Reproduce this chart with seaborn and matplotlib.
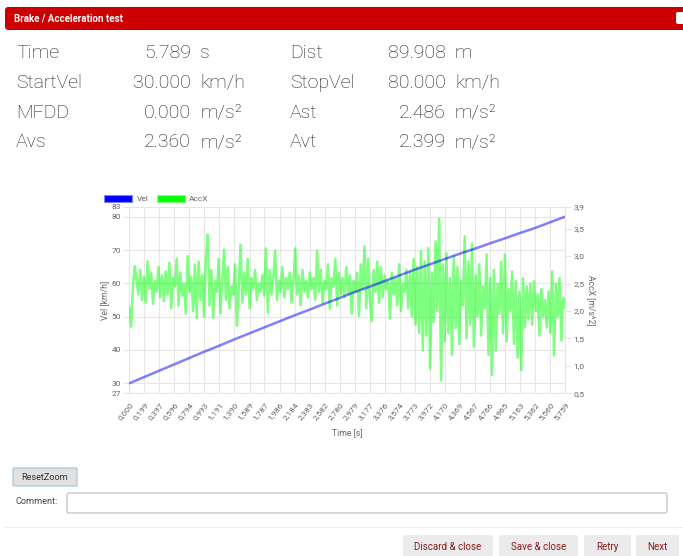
import numpy as np
import matplotlib
matplotlib.use("Agg")
import matplotlib.pyplot as plt
import seaborn as sns
from matplotlib.patches import FancyBboxPatch, Patch

# Kennwerte (Dialog oben)
stat_labels_left = ["Time", "StartVel", "MFDD", "Avs"]
stat_values_left = ["5.789", "30.000", "0.000", "2.360"]
stat_units_left = ["s", "km/h", "m/s²", "m/s²"]
stat_labels_right = ["Dist", "StopVel", "Ast", "Avt"]
stat_values_right = ["89.908", "80.000", "2.486", "2.399"]
stat_units_right = ["m", "km/h", "m/s²", "m/s²"]

# x-Achse (Zeit) Beschriftungen
time_ticks = [0.000, 0.199, 0.397, 0.596, 0.794, 0.993, 1.191, 1.390, 1.589, 1.787,
              1.986, 2.184, 2.383, 2.582, 2.780, 2.979, 3.177, 3.376, 3.574, 3.773,
              3.972, 4.170, 4.369, 4.567, 4.766, 4.965, 5.163, 5.362, 5.560, 5.759]

# Geschwindigkeit an den Beschriftungszeitpunkten
vel = [30.0, 31.9, 33.8, 35.7, 37.6, 39.5, 41.3, 43.2, 45.0, 46.8,
       48.6, 50.4, 52.1, 53.9, 55.6, 57.4, 59.0, 60.7, 62.4, 64.1,
       65.7, 67.3, 68.9, 70.4, 72.0, 73.5, 75.1, 76.6, 78.3, 80.0]

# Beschleunigung AccX [m/s^2]
acc = [
    2.06, 1.72, 2.45, 2.82, 2.55, 2.30, 2.75, 2.20, 2.62, 2.15, 2.90, 2.40, 2.70, 2.13, 2.55, 2.35, 2.80, 2.25, 2.65, 2.18,
    2.72, 2.30, 2.88, 2.05, 2.60, 2.45, 2.95, 2.10, 2.70, 2.28, 2.50, 1.95, 3.00, 2.35, 2.62, 2.00, 2.85, 1.87, 2.90, 2.20,
    2.65, 1.90, 2.95, 3.39, 2.10, 2.75, 1.88, 2.55, 2.35, 2.95, 1.96, 2.60, 3.12, 2.20, 2.80, 2.05, 2.45, 2.30, 2.85, 1.73,
    2.40, 3.21, 2.15, 2.70, 2.30, 2.95, 2.05, 2.60, 2.40, 2.75, 2.20, 2.50, 2.35, 2.65, 2.28, 3.14, 1.97, 2.75, 2.30, 2.60,
    3.10, 2.20, 2.55, 2.35, 2.80, 2.25, 2.60, 2.40, 2.70, 2.15, 2.50, 3.14, 2.30, 2.65, 2.10, 2.75, 2.35, 2.55, 2.25, 2.70,
    2.40, 2.60, 2.20, 3.10, 2.35, 2.75, 2.15, 2.55, 2.40, 2.85, 2.04, 2.60, 2.45, 2.95, 2.10, 2.70, 2.30, 2.60, 2.25, 2.80,
    2.30, 2.65, 1.95, 2.55, 2.35, 2.70, 1.91, 2.85, 2.40, 3.18, 2.05, 2.95, 2.20, 1.82, 2.75, 2.35, 2.90, 2.15, 2.80, 2.25,
    2.65, 2.40, 2.55, 1.86, 2.70, 2.30, 2.60, 2.10, 2.85, 2.00, 2.50, 2.35, 2.75, 2.05, 2.72, 1.90, 2.95, 1.75, 2.80, 1.60,
    3.09, 1.28, 2.90, 1.55, 3.15, 0.95, 2.70, 1.80, 3.27, 2.00, 3.68, 0.74, 2.85, 1.45, 3.05, 1.60, 2.60, 1.20, 3.00, 1.69,
    2.80, 1.40, 2.55, 2.10, 3.36, 1.50, 2.90, 1.75, 3.23, 1.35, 2.65, 1.90, 2.85, 1.55, 2.45, 2.05, 3.03, 1.20, 2.60, 0.83,
    2.75, 1.28, 2.50, 1.95, 2.90, 1.60, 3.03, 1.45, 2.40, 2.00, 2.72, 1.40, 2.55, 1.15, 2.35, 0.92, 2.60, 1.70, 2.45, 1.85,
    2.50, 1.75, 2.54, 2.00, 2.30, 1.55, 2.40, 1.90, 2.20, 1.70, 2.35, 1.60, 2.72, 1.19, 2.50, 1.90, 2.60, 1.46, 2.24, 2.05,
]
acc_time = np.linspace(time_ticks[0], time_ticks[-1], len(acc))

vel_ticks = [27, 30, 40, 50, 60, 70, 80, 83]
acc_ticks = [0.5, 1.0, 1.5, 2.0, 2.5, 3.0, 3.5, 3.9]

W, H = 683, 556
sns.set_style("white")
plt.rcParams['font.family'] = ['Roboto', 'DejaVu Sans']

fig = plt.figure(figsize=(W / 100, H / 100), dpi=100)
P = fig.dpi_scale_trans


def box(x0, y0, x1, y1, fc, ec="none", r=2, lw=0.8):
    fig.add_artist(FancyBboxPatch((x0 / 100, (H - y1) / 100), (x1 - x0) / 100, (y1 - y0) / 100,
                                  boxstyle=f"round,pad=0,rounding_size={r / 100}",
                                  fc=fc, ec=ec, lw=lw, transform=P))


def txt(x, y, s, **kw):
    fig.text(x / 100, (H - y) / 100, s, transform=P, va="center", **kw)


# Kopfzeile
box(5, 7, 700, 30, "#cc0000", r=3)
txt(14, 18.5, "Brake / Acceleration test", color="white", fontsize=7, fontweight="bold")
box(676, 12, 690, 24, "white", r=2)

# Kennwerte
row_y = [53.5, 83, 112.5, 142]
stat_kw = dict(fontsize=14, color="#1e1e1e", fontweight="light")
for i, y in enumerate(row_y):
    txt(16, y, stat_labels_left[i], **stat_kw)
    txt(191, y, stat_values_left[i], ha="right", **stat_kw)
    txt(200, y, stat_units_left[i], **stat_kw)
    txt(290, y, stat_labels_right[i], **stat_kw)
    txt(446, y, stat_values_right[i], ha="right", **stat_kw)
    txt(455, y, stat_units_right[i], **stat_kw)

# Diagramm
x0, x1, y0, y1 = 129.3, 565, 206.7, 393.3
ax = fig.add_axes([x0 / W, 1 - y1 / H, (x1 - x0) / W, (y1 - y0) / H])
ax2 = ax.twinx()
ax3 = ax.twinx()

grid_c = "#e6e6e6"
lab_c = "#666666"

ax.set_xlim(time_ticks[0], time_ticks[-1])
ax.set_ylim(27, 83)
ax.set_yticks(vel_ticks)
ax.set_yticklabels([str(v) for v in vel_ticks])
ax.set_xticks(time_ticks)
ax.set_xticklabels([f"{t:.3f}".replace(".", ",") for t in time_ticks],
                   rotation=52, ha="right", rotation_mode="anchor")
ax.grid(True, color=grid_c, lw=0.8)
ax.tick_params(axis="both", labelsize=6, labelcolor=lab_c, color=grid_c, length=4, width=0.8, pad=2)
ax.set_xlabel("Time [s]", fontsize=6.2, color=lab_c, labelpad=5)
ax.set_ylabel("Vel [km/h]", fontsize=6.2, color=lab_c, labelpad=2)
for s in ax.spines.values():
    s.set_visible(False)
ax.spines["left"].set_visible(True)
ax.spines["bottom"].set_visible(True)
ax.spines["left"].set_color(grid_c)
ax.spines["bottom"].set_color(grid_c)

sns.lineplot(x=acc_time, y=acc, ax=ax2, color="#00ff00", alpha=0.5, lw=1.8)
ax2.set_ylim(0.5, 3.9)
ax2.set_yticks(acc_ticks)
ax2.set_yticklabels([f"{v:.1f}".replace(".", ",") for v in acc_ticks])
ax2.tick_params(axis="y", labelsize=6, labelcolor=lab_c, color=grid_c, length=4, width=0.8, pad=2)
ax2.set_ylabel("AccX [m/s^2]", fontsize=6.2, color=lab_c, rotation=270, labelpad=8)
for s in ax2.spines.values():
    s.set_visible(False)
ax2.spines["right"].set_visible(True)
ax2.spines["right"].set_color(grid_c)

sns.lineplot(x=time_ticks, y=vel, ax=ax3, color="#0000ff", alpha=0.5, lw=1.8)
ax3.set_ylim(27, 83)
ax3.set_xlim(time_ticks[0], time_ticks[-1])
ax3.axis("off")

fig.legend(handles=[Patch(fc="#0000ff", ec="#8080ff", lw=0.8, label="Vel"),
                    Patch(fc="#00ff00", ec="#80ff80", lw=0.8, label="AccX")],
           loc="lower left", bbox_to_anchor=(104 / W, 1 - 202 / H), ncol=2, frameon=False,
           fontsize=6, handlelength=3.4, handleheight=0.9, columnspacing=1.0,
           handletextpad=0.5, borderaxespad=0, borderpad=0, labelcolor=lab_c)

# Bedienelemente unten
box(13, 468, 77, 486, "#e1e1e1", ec="#9fc3e0", r=1)
txt(45, 477, "ResetZoom", fontsize=6.6, color="#333333", ha="center")
txt(15, 502, "Comment:", fontsize=6.6, color="#444444")
box(67, 493, 667, 513, "white", ec="#bbbbbb", r=2)
fig.add_artist(plt.Line2D([5 / 100, 683 / 100], [(H - 527) / 100] * 2, color="#eeeeee", lw=0.8, transform=P))

buttons = [("Discard & close", 403, 493), ("Save & close", 499, 578), ("Retry", 584, 631), ("Next", 636, 679)]
for label, bx0, bx1 in buttons:
    box(bx0, 535, bx1, 562, "#ebebeb", r=2)
    txt((bx0 + bx1) / 2, 547, label, fontsize=7, color="#8b1a1a", ha="center")

fig.savefig("out.png", dpi=100)
